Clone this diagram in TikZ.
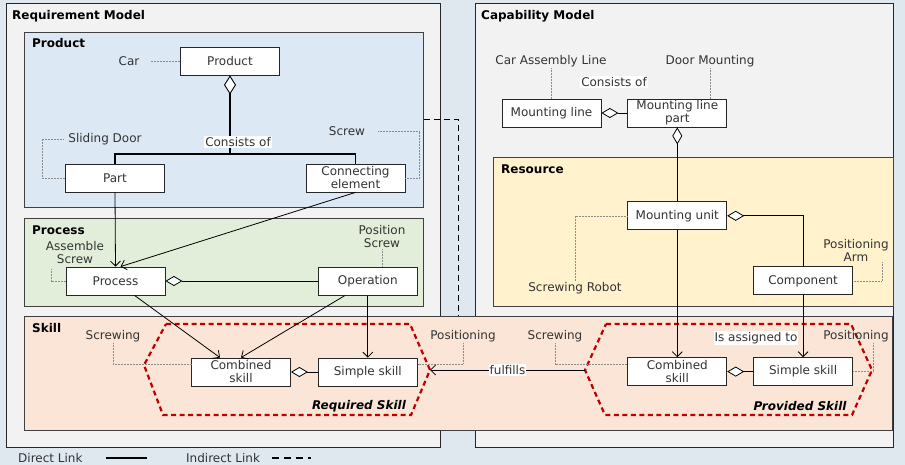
\documentclass[tikz,border=0pt]{standalone}
\usepackage{fontspec}
\setmainfont{DejaVu Sans}
\usepackage{xcolor}
\usetikzlibrary{positioning, arrows.meta}

\definecolor{pagebg}{HTML}{DFE7EF}
\definecolor{modelfill}{HTML}{F2F2F2}
\definecolor{productfill}{HTML}{DDE8F5}
\definecolor{processfill}{HTML}{E2EED9}
\definecolor{resourcefill}{HTML}{FFF2CC}
\definecolor{skillfill}{HTML}{FBE5D6}
\definecolor{skillred}{HTML}{C00000}
\definecolor{inktext}{HTML}{333333}

\begin{document}
\begin{tikzpicture}[x=1pt, y=-1pt,
    font=\fontsize{12}{13}\selectfont,
    modelbox/.style={draw=black!85, line width=0.8pt, fill=modelfill, anchor=north west, inner sep=0pt},
    groupbox/.style={draw=black!75, line width=0.8pt, anchor=north west, inner sep=0pt},
    title/.style={anchor=west, font=\fontsize{12}{13}\selectfont\bfseries, inner sep=0pt},
    elem/.style={draw=black!85, fill=white, line width=0.8pt, minimum width=99pt, minimum height=28pt,
        inner sep=1pt, align=center, text=inktext, font=\fontsize{12}{13}\selectfont},
    lbl/.style={text=inktext, align=center, inner sep=1pt, font=\fontsize{12}{13}\selectfont},
    tag/.style={font=\fontsize{12}{13}\selectfont\bfseries\itshape, inner sep=0pt},
    note/.style={densely dotted, draw=black!45, line width=0.5pt},
    link/.style={draw=black, line width=0.8pt, -{Straight Barb[length=5pt, width=10pt]}},
    aggr/.style={draw=black, line width=0.8pt, {Diamond[fill=white, length=17pt, width=10pt]}-},
    indirect/.style={draw=black, line width=0.9pt, dash pattern=on 6pt off 4pt},
    hexline/.style={draw=skillred, line width=2.2pt, dash pattern=on 5pt off 3.5pt}]

    % page and model frames
    \fill[pagebg] (0,0) rectangle (905,465);
    \node[modelbox, minimum width=434pt, minimum height=444pt] (reqmodel) at (6,3) {};
    \node[modelbox, minimum width=418pt, minimum height=444pt] (capmodel) at (475,3) {};
    \node[groupbox, fill=productfill, minimum width=399pt, minimum height=175pt] (productgrp) at (24,32) {};
    \node[groupbox, fill=processfill, minimum width=399pt, minimum height=88pt] (processgrp) at (24,218) {};
    \node[groupbox, fill=resourcefill, minimum width=400pt, minimum height=149pt] (resourcegrp) at (493,157) {};
    \node[groupbox, fill=skillfill, minimum width=868pt, minimum height=114pt] (skillgrp) at (24,316) {};

    \node[title] (reqtitle) at (12,16) {Requirement Model};
    \node[title] (captitle) at (481,16) {Capability Model};
    \node[title] (producttitle) at (32,43) {Product};
    \node[title] (processtitle) at (32,230) {Process};
    \node[title] (skilltitle) at (32,328) {Skill};
    \node[title] (resourcetitle) at (501,169) {Resource};

    % indirect link between product and skill
    \coordinate (indturn) at (458,119);
    \draw[indirect] (productgrp.east |- indturn) -- (indturn) -- (indturn |- skillgrp.north);

    % skill hexagons
    \coordinate (reqtip) at (430,370);
    \coordinate (provtip) at (585,370);
    \draw[hexline] (166,324) -- (410,324) -- (reqtip) -- (411,415) -- (163,415) -- (144,365) -- cycle;
    \draw[hexline] (606,324) -- (851,324) -- (872,370) -- (852,415) -- (605,415) -- (provtip) -- cycle;
    \node[tag] (reqskill) at (359,406) {Required Skill};
    \node[tag] (provskill) at (800,406) {Provided Skill};

    % requirement side
    \node[elem] (product) at (230,61) {Product};
    \node[elem] (part) at (115,178) {Part};
    \node[elem] (connelem) at (355.5,178) {Connecting\\element};
    \node[elem] (process) at (115.5,281) {Process};
    \node[elem] (combreq) at (241,372) {Combined\\skill};
    \node[elem, right=27pt of combreq] (simpreq) {Simple skill};
    \node[elem, above=62pt of simpreq] (operation) {Operation};

    % capability side
    \node[elem] (mline) at (551.5,113) {Mounting line};
    \node[elem, right=26pt of mline] (mlpart) {Mounting line\\part};
    \node[elem, below=74pt of mlpart] (munit) {Mounting unit};
    \node[elem, below=127pt of munit] (combprov) {Combined\\skill};
    \node[elem, right=26pt of combprov] (simpprov) {Simple skill};
    \node[elem, above=62pt of simpprov] (component) {Component};

    % instance labels
    \node[lbl] (car) at (129,61) {Car};
    \node[lbl] (slidingdoor) at (105,139) {Sliding Door};
    \node[lbl] (screw) at (347,131) {Screw};
    \node[lbl] (assemblescrew) at (75,253) {Assemble\\Screw};
    \node[lbl] (positionscrew) at (382,237) {Position\\Screw};
    \node[lbl] (screwingreq) at (113,336) {Screwing};
    \node[lbl] (positioningreq) at (463,336) {Positioning};
    \node[lbl] (carline) at (551,61) {Car Assembly Line};
    \node[lbl] (doormount) at (710,61) {Door Mounting};
    \node[lbl] (screwrobot) at (575,288) {Screwing Robot};
    \node[lbl] (posarm) at (856,250) {Positioning\\Arm};
    \node[lbl] (screwingprov) at (555,336) {Screwing};
    \node[lbl] (positioningprov) at (856,336) {Positioning};

    \draw[note] ([xshift=10pt]car.east) -- (product.west);
    \draw[note] ([xshift=-4pt]slidingdoor.west) -| ([xshift=-23pt]part.west) -- (part.west);
    \draw[note] ([xshift=12pt]screw.east) -| ([xshift=14pt]connelem.east) -- (connelem.east);
    \draw[note] (process.west) -- ++(-14,0) -- ++(0,-12);
    \draw[note] (positionscrew.south) -- (positionscrew.south |- operation.north);
    \draw[note] (screwingreq.south) |- ([yshift=8pt]combreq.west);
    \draw[note] (positioningreq.south) |- ([yshift=8pt]simpreq.east);
    \draw[note] (carline.south) -- (carline.south |- mline.north);
    \draw[note] (doormount.south) -- (doormount.south |- mlpart.north);
    \draw[note] (screwrobot.north) |- (munit.west);
    \draw[note] ([xshift=26pt]posarm.south) |- (component.east);
    \draw[note] (screwingprov.south) |- ([yshift=7pt]combprov.west);
    \draw[note] ([xshift=17pt]positioningprov.south) |- (simpprov.east);

    % product tree
    \coordinate (prodjoin) at (230,154);
    \draw[aggr, line width=1.6pt, {Diamond[fill=white, length=19pt, width=12pt, line width=0.9pt]}-] (product.south) -- (prodjoin);
    \draw[line width=1.1pt] (part.north) |- (prodjoin) -| (connelem.north);
    \node[lbl, fill=white] (consistsreq) at (238,142) {Consists of};

    % direct links, requirement side
    \draw[link] (part.south) -- (process.north);
    \draw[link] (connelem.south) -- ([xshift=5pt]process.north);
    \draw[aggr] (process.east) -- (process.east -| operation.west);
    \draw[link] ([xshift=19pt]process.south) -- ([xshift=-21pt]combreq.north);
    \draw[link] ([xshift=-23pt]operation.south) -- (combreq.north);
    \draw[link] (operation.south) -- (simpreq.north);
    \draw[aggr] (combreq.east) -- (simpreq.west);

    % direct links, capability side
    \draw[aggr] (mline.east) -- (mlpart.west);
    \node[lbl, fill=white] (consistscap) at (614,82) {Consists of};
    \draw[aggr] (mlpart.south) -- (munit.north);
    \draw[link] (munit.south) -- (combprov.north);
    \draw[aggr] (munit.east) -| (component.north);
    \draw[link] (component.south) -- (simpprov.north);
    \draw[aggr] (combprov.east) -- (simpprov.west);
    \node[lbl, fill=white] (assigned) at (756,338) {Is assigned to};

    % fulfills
    \draw[link] (provtip) -- node[lbl, fill=white] (fulfills) {fulfills} (reqtip);

    % legend
    \node[lbl, anchor=west, inner sep=0pt] (directleg) at (18,458) {Direct Link};
    \node[lbl, anchor=west, inner sep=0pt] (indirectleg) at (186,458) {Indirect Link};
    \draw[line width=1.3pt] ([xshift=23pt]directleg.east) -- ([xshift=64pt]directleg.east);
    \draw[line width=1.3pt, dash pattern=on 7pt off 5pt] ([xshift=12pt]indirectleg.east) -- ([xshift=51pt]indirectleg.east);

    \useasboundingbox (0,0) rectangle (905,465);
\end{tikzpicture}
\end{document}
